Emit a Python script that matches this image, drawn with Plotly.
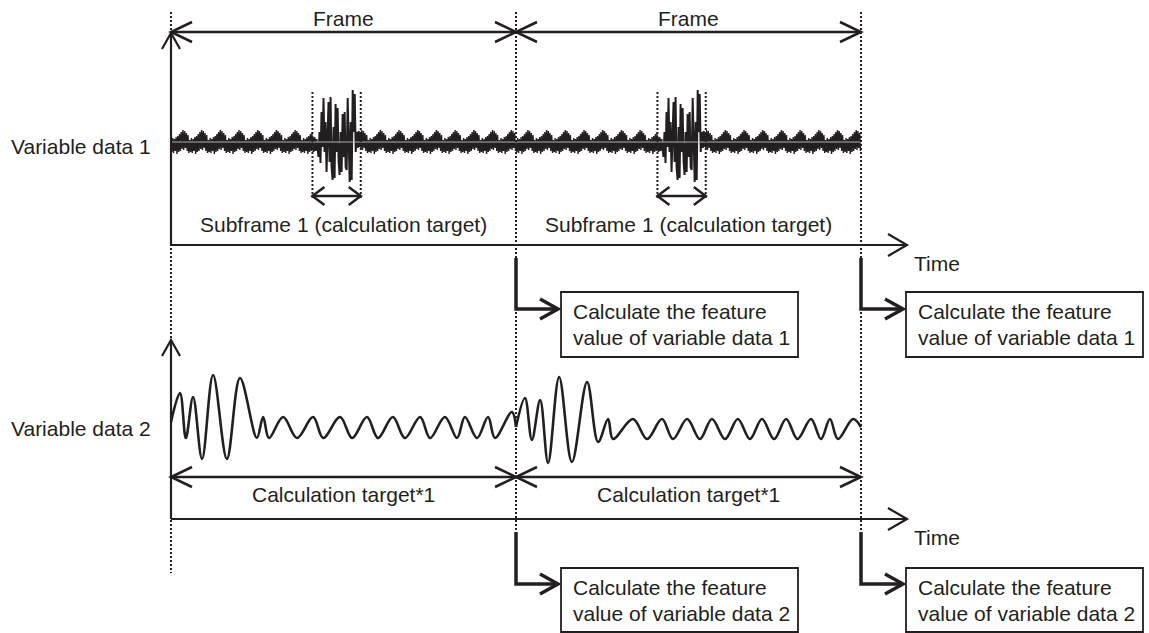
import plotly.graph_objects as go

# ---------------- data ----------------
frame_edges = [0.0, 1.0, 2.0]              # frame boundaries (time, in frames)
frame_label = "Frame"
subframe_range = [0.41, 0.55]              # subframe window inside each frame
subframe_label = "Subframe 1 (calculation target)"
calc_label = "Calculation target*1"
axis_label = "Time"
series_labels = ["Variable data 1", "Variable data 2"]
box_text_1 = ["Calculate the feature", "value of variable data 1"]
box_text_2 = ["Calculate the feature", "value of variable data 2"]

# Variable data 1: repeating background-noise motif (offsets above baseline)
noise_motif = [2, -10, 4, -11, 3, -9, 5, -12, 6, -10, 8, -9, 10, -7, 12, -8,
               11, -6, 9, -9, 7, -11]
noise_step = 0.85 / 345.0
# Variable data 1: burst inside the subframe (offsets above baseline)
burst_values = [4, -10, 5, -9, 3, -10, -15, 10, -21, 30, -5, 44, -10, 20, -30, 5,
                40, -20, 45, -25, -38, 15, -36, 38, -10, 34, -20, -33, 10, -30,
                28, -15, 30, -25, -28, 44, -20, -40, 20, -38, 52, 10, 48, -10,
                10, -6, 11, -5, 9]

# Variable data 2: extrema of the waveform (time within frame, offset above baseline)
sig2_f1_t = [0.000, 0.026, 0.043, 0.064, 0.090, 0.122, 0.162, 0.200, 0.249, 0.267,
             0.284, 0.325, 0.365, 0.412, 0.441, 0.490, 0.525, 0.568, 0.600, 0.643,
             0.678, 0.722, 0.751, 0.794, 0.829, 0.852, 0.887, 0.919, 0.939, 0.988, 1.000]
sig2_f1_v = [6, 35, -10, 31, -31, 53, -31, 50, -10, 11,
             -10, 11, -10, 11, -10, 11, -10, 11, -10, 11,
             -10, 11, -10, 11, -10, 11, -10, 11, -10, 16, 1]
sig2_f2_t = [0.000, 0.026, 0.046, 0.070, 0.093, 0.125, 0.162, 0.206, 0.238, 0.267,
             0.281, 0.339, 0.380, 0.423, 0.455, 0.496, 0.533, 0.568, 0.606, 0.643,
             0.678, 0.713, 0.748, 0.783, 0.816, 0.855, 0.884, 0.910, 0.933, 0.977, 1.000]
sig2_f2_v = [1, 30, -12, 28, -35, 51, -34, 46, -14, 9,
             -11, 9, -11, 9, -11, 9, -11, 9, -11, 9,
             -11, 9, -11, 9, -11, 9, -11, 9, -11, 9, 1]

# ---------------- geometry (pixels) ----------------
W, H = 1149, 633
X0, FW = 171, 345            # pixel of t=0 and pixels per frame
INK = "#231f20"
FONT = dict(family="Liberation Sans, Arial, sans-serif", size=21, color=INK)

DOT_TOP, DOT_BOT = 12, 573
FRAME_Y, FRAME_LBL_Y = 32, 18
AX1_Y, AX1_TOP = 245, 33
SIG1_Y = 142
SUB_DOT_TOP, SUB_DOT_BOT, SUB_ARR_Y, SUB_LBL_Y = 92, 200, 196, 224
AX2_Y, AX2_TOP = 519, 340
SIG2_Y = 428
CALC_Y, CALC_LBL_Y = 477, 494
AXIS_TIP_PX = 907
BOX_L, BOX_R, ARROW_TIP = 45, 282, 42     # offsets from frame edge (px)
ROW1 = dict(br_top=258, br_y=309, top=292, bot=357)
ROW2 = dict(br_top=532, br_y=584, top=568, bot=632)


def T(px):
    return (px - X0) / FW


def dT(dpx):
    return dpx / FW


shapes = []
annotations = []


def seg(t0, y0, t1, y1, width=2.5, dash=None, color=INK):
    ln = dict(color=color, width=width)
    if dash:
        ln["dash"] = dash
    shapes.append(dict(type="line", xref="x", yref="y", x0=t0, y0=y0, x1=t1, y1=y1, line=ln))


def path(points, width=2.5):
    d = "M " + " L ".join(f"{p[0]:.6f},{p[1]:.3f}" for p in points)
    shapes.append(dict(type="path", xref="x", yref="y", path=d,
                       line=dict(color=INK, width=width)))


def chevron(t, y, direction, back=20, half=10, width=2.5):
    if direction == "right":
        pts = [(t - dT(back), y - half), (t, y), (t - dT(back), y + half)]
    elif direction == "left":
        pts = [(t + dT(back), y - half), (t, y), (t + dT(back), y + half)]
    else:  # up
        pts = [(t - dT(half), y + back), (t, y), (t + dT(half), y + back)]
    path(pts, width)


def text(t, y, s, anchor="center"):
    annotations.append(dict(x=t, y=y, xref="x", yref="y", text=s, showarrow=False,
                            xanchor=anchor, yanchor="middle", font=FONT))


def add_line(xs, ys, width):
    fig.add_trace(go.Scatter(x=xs, y=ys, mode="lines", line=dict(color=INK, width=width),
                             hoverinfo="skip", showlegend=False))


fig = go.Figure()

# ---- variable data 1 signal ----
for k in range(len(frame_edges) - 1):
    start = frame_edges[k]
    s0, s1 = start + subframe_range[0], start + subframe_range[1]
    xs, ys = [], []
    t, i = start, 0
    while t < s0:
        xs.append(t); ys.append(SIG1_Y - noise_motif[i % len(noise_motif)])
        t += noise_step; i += 1
    add_line(xs, ys, 1.4)
    bstep = (s1 - s0) / (len(burst_values) - 1)
    add_line([s0 + j * bstep for j in range(len(burst_values))],
             [SIG1_Y - v for v in burst_values], 2.0)
    xs, ys = [], []
    t = s1
    while t <= frame_edges[k + 1]:
        xs.append(t); ys.append(SIG1_Y - noise_motif[i % len(noise_motif)])
        t += noise_step; i += 1
    add_line(xs, ys, 1.4)
seg(frame_edges[0], SIG1_Y, frame_edges[-1], SIG1_Y, width=1, color="#b0b0b0")

# ---- variable data 2 signal ----
for k, (tt, vv) in enumerate([(sig2_f1_t, sig2_f1_v), (sig2_f2_t, sig2_f2_v)]):
    fig.add_trace(go.Scatter(x=[frame_edges[k] + t for t in tt],
                             y=[SIG2_Y - v for v in vv],
                             mode="lines", line=dict(color=INK, width=2.6, shape="spline"),
                             hoverinfo="skip", showlegend=False))

# ---- dotted frame boundaries ----
for e in frame_edges:
    seg(e, DOT_TOP, e, DOT_BOT, width=2, dash="2px,2px")

# ---- frame arrows ----
for k in range(len(frame_edges) - 1):
    a, b = frame_edges[k], frame_edges[k + 1]
    seg(a, FRAME_Y, b, FRAME_Y)
    chevron(a, FRAME_Y, "left", back=21, half=10)
    chevron(b, FRAME_Y, "right", back=21, half=10)
    text((a + b) / 2, FRAME_LBL_Y, frame_label)

    # subframe markers
    s0, s1 = a + subframe_range[0], a + subframe_range[1]
    seg(s0, SUB_DOT_TOP, s0, SUB_DOT_BOT, width=2, dash="2px,2px")
    seg(s1, SUB_DOT_TOP, s1, SUB_DOT_BOT, width=2, dash="2px,2px")
    seg(s0, SUB_ARR_Y, s1, SUB_ARR_Y)
    chevron(s0, SUB_ARR_Y, "left", back=12, half=9)
    chevron(s1, SUB_ARR_Y, "right", back=12, half=9)
    text((a + b) / 2, SUB_LBL_Y, subframe_label)

    # calculation target arrows
    seg(a, CALC_Y, b, CALC_Y)
    chevron(a, CALC_Y, "left", back=21, half=10)
    chevron(b, CALC_Y, "right", back=21, half=10)
    text((a + b) / 2, CALC_LBL_Y, calc_label)

# ---- axes ----
for ax_y, ax_top in [(AX1_Y, AX1_TOP), (AX2_Y, AX2_TOP)]:
    seg(frame_edges[0], ax_y, frame_edges[0], ax_top, width=2.2)
    chevron(frame_edges[0], ax_top, "up", back=16, half=9, width=2.2)
    seg(frame_edges[0], ax_y, T(AXIS_TIP_PX), ax_y, width=2.2)
    chevron(T(AXIS_TIP_PX), ax_y, "right", back=19, half=11, width=2.2)
    text(T(AXIS_TIP_PX + 5), ax_y + 18, axis_label, anchor="left")

text(T(9), 146, series_labels[0], anchor="left")
text(T(9), 428, series_labels[1], anchor="left")

# ---- brackets and boxes ----
for row, lines in [(ROW1, box_text_1), (ROW2, box_text_2)]:
    for e in frame_edges[1:]:
        path([(e, row["br_top"]), (e, row["br_y"]), (e + dT(ARROW_TIP - 2), row["br_y"])], width=3.5)
        chevron(e + dT(ARROW_TIP), row["br_y"], "right", back=18, half=10, width=3.5)
        shapes.append(dict(type="rect", xref="x", yref="y",
                           x0=e + dT(BOX_L), x1=e + dT(BOX_R), y0=row["top"], y1=row["bot"],
                           line=dict(color=INK, width=1.8), fillcolor="rgba(0,0,0,0)"))
        cy = (row["top"] + row["bot"]) / 2
        text(e + dT(BOX_L + 10), cy - 13, lines[0], anchor="left")
        text(e + dT(BOX_L + 10), cy + 13, lines[1], anchor="left")

fig.update_layout(
    width=W, height=H, margin=dict(l=0, r=0, t=0, b=0),
    paper_bgcolor="white", plot_bgcolor="white",
    xaxis=dict(range=[T(0), T(W)], visible=False, fixedrange=True),
    yaxis=dict(range=[H, 0], visible=False, fixedrange=True),
    shapes=shapes, annotations=annotations, showlegend=False,
)

fig.write_html("out.html", config={"displayModeBar": False},
               post_script="document.body.style.margin='0';")
